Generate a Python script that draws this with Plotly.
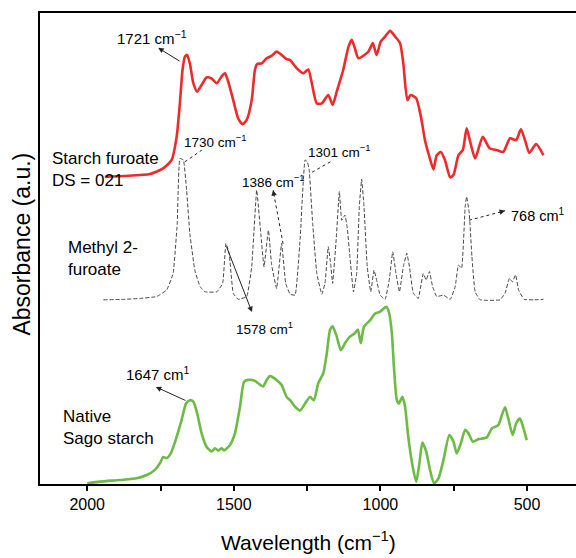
import plotly.graph_objects as go

# FTIR spectra (wavenumber in cm^-1, stacked absorbance in arbitrary units)
furoate_wn = [1940, 1877, 1786, 1741, 1712, 1695, 1684, 1675, 1667, 1659, 1650, 1638, 1625, 1610, 1593,
              1576, 1558, 1541, 1530, 1519, 1502, 1485, 1470, 1456, 1439, 1428, 1420, 1405, 1388, 1371,
              1354, 1337, 1320, 1308, 1286, 1263, 1246, 1234, 1217, 1200, 1178, 1163, 1149, 1127, 1109,
              1098, 1087, 1075, 1041, 1026, 1013, 999, 984, 967, 950, 933, 922, 908, 897, 878,
              862, 848, 833, 819, 808, 794, 780, 762, 751, 734, 719, 706, 694, 677, 651,
              628, 603, 581, 558, 537, 521, 507, 492, 469, 444]
furoate_abs = [65.2, 65.4, 65.8, 67.0, 68.8, 73.7, 80.8, 87.9, 90.7, 91.1, 89.3, 85.1, 83.3, 84.7, 86.3,
               86.1, 85.1, 86.6, 87.2, 85.4, 81.5, 77.6, 76.4, 77.3, 81.5, 87.9, 89.2, 89.3, 90.4, 90.9,
               91.8, 91.1, 90.2, 90.0, 88.3, 87.2, 88.0, 85.1, 80.8, 80.8, 82.6, 80.5, 83.3, 87.9, 92.8,
               94.3, 92.5, 90.4, 91.8, 93.6, 91.1, 93.9, 95.0, 96.2, 95.0, 93.6, 89.3, 81.5, 82.6, 81.9,
               78.0, 73.0, 69.5, 66.8, 69.8, 70.5, 68.8, 65.1, 65.6, 69.8, 70.9, 75.5, 72.7, 69.1, 73.7,
               71.3, 70.9, 70.5, 73.4, 73.0, 75.3, 73.0, 70.3, 72.2, 69.8]

methyl_wn = [1945, 1877, 1820, 1763, 1729, 1707, 1693, 1684, 1672, 1661, 1650, 1633, 1615, 1598, 1558,
             1538, 1527, 1516, 1502, 1485, 1456, 1439, 1422, 1408, 1397, 1382, 1371, 1354, 1337, 1323,
             1308, 1291, 1274, 1257, 1249, 1243, 1231, 1217, 1200, 1189, 1178, 1170, 1163, 1151, 1140,
             1132, 1121, 1113, 1104, 1092, 1081, 1072, 1064, 1056, 1045, 1033, 1022, 1013, 1001, 984,
             970, 958, 947, 935, 922, 910, 901, 888, 871, 854, 844, 833, 822, 808, 785,
             762, 745, 734, 723, 711, 706, 697, 688, 677, 660, 592, 575, 560, 550, 539,
             529, 510, 476, 444]
methyl_abs = [39.1, 39.2, 39.4, 39.8, 41.2, 44.7, 55.3, 69.1, 68.8, 62.4, 53.2, 45.4, 41.9, 40.8, 40.8,
              42.6, 51.1, 49.0, 40.5, 39.2, 39.8, 46.1, 62.4, 53.2, 46.1, 53.9, 46.5, 41.5, 51.1, 42.6,
              40.3, 40.1, 51.8, 68.8, 68.4, 66.7, 55.3, 44.7, 40.3, 42.6, 50.4, 46.9, 42.6, 51.8, 62.1,
              56.0, 57.1, 54.3, 48.3, 40.8, 44.7, 58.9, 64.7, 58.9, 46.1, 40.8, 45.4, 43.3, 40.1, 39.2,
              43.3, 49.3, 44.7, 40.8, 46.1, 49.0, 46.1, 40.5, 39.4, 44.7, 43.3, 45.1, 41.9, 39.8, 40.1,
              39.2, 41.9, 46.5, 45.8, 58.9, 61.0, 57.5, 48.3, 40.8, 39.1, 39.1, 40.5, 43.7, 42.9, 44.4,
              41.2, 39.2, 39.1, 39.2]

sago_wn = [2000, 1957, 1888, 1831, 1797, 1769, 1752, 1741, 1729, 1715, 1695, 1678, 1663, 1650, 1638,
           1625, 1610, 1593, 1576, 1564, 1553, 1541, 1534, 1513, 1496, 1479, 1465, 1451, 1428, 1417,
           1400, 1388, 1377, 1354, 1337, 1320, 1308, 1291, 1274, 1257, 1240, 1227, 1212, 1195, 1183,
           1172, 1163, 1149, 1135, 1121, 1104, 1087, 1077, 1067, 1056, 1035, 1018, 1001, 988, 979,
           970, 961, 954, 944, 937, 925, 916, 905, 890, 878, 867, 857, 844, 831, 817,
           802, 785, 765, 751, 740, 726, 711, 700, 685, 666, 637, 620, 598, 586, 575,
           564, 549, 537, 524, 512, 501]
sago_abs = [0.15, 0.5, 0.85, 1.2, 1.9, 3.0, 4.4, 5.7, 5.5, 6.5, 10.0, 13.6, 17.1, 17.8, 17.5,
            15.0, 10.8, 7.9, 6.9, 7.6, 7.1, 7.6, 7.1, 8.3, 10.8, 16.4, 21.7, 22.1, 21.9, 21.4,
            20.7, 22.1, 22.9, 22.1, 21.0, 18.5, 17.8, 16.4, 15.6, 17.1, 18.5, 17.8, 21.4, 23.5, 27.7,
            32.7, 33.5, 31.3, 28.4, 29.9, 31.3, 32.0, 32.8, 29.9, 33.4, 34.8, 36.2, 36.6, 37.3, 37.6,
            36.2, 32.0, 24.9, 17.8, 17.1, 18.5, 16.4, 10.0, 3.7, 0.5, 4.4, 8.8, 6.9, 3.0, 0.15,
            1.2, 5.1, 10.4, 9.0, 6.5, 8.6, 11.5, 10.8, 9.0, 9.5, 9.9, 11.8, 12.5, 14.6, 16.3,
            13.9, 10.4, 12.9, 13.9, 11.8, 9.3]

tick_vals = [2000, 1750, 1500, 1250, 1000, 750, 500]
tick_text = ["2000", "", "1500", "", "1000", "", "500"]

FONT = "Arial, Liberation Sans, sans-serif"

fig = go.Figure()
fig.add_trace(go.Scatter(x=furoate_wn, y=furoate_abs, mode="lines",
                         line=dict(color="#ee2a2a", width=2.6, shape="spline", smoothing=0.6)))
fig.add_trace(go.Scatter(x=methyl_wn, y=methyl_abs, mode="lines",
                         line=dict(color="#333333", width=0.9, dash="4px,2px", shape="spline", smoothing=0.3)))
fig.add_trace(go.Scatter(x=sago_wn, y=sago_abs, mode="lines",
                         line=dict(color="#6cbb45", width=2.6, shape="spline", smoothing=0.6)))

# peak labels: (text, wavenumber, absorbance, size)
labels = [
    ("1721 cm<sup>\u22121</sup>", 1779, 94.9, 15),
    ("1730 cm<sup>\u22121</sup>", 1564, 72.8, 13.5),
    ("1386 cm<sup>\u22121</sup>", 1363, 64.3, 13.5),
    ("1301 cm<sup>\u22121</sup>", 1138, 70.7, 13.5),
    ("768 cm<sup>1</sup>", 462, 57.1, 14.5),
    ("1578 cm<sup>1</sup>", 1394, 33.1, 13.5),
    ("1647 cm<sup>1</sup>", 1759, 23.4, 15),
]
annotations = []
for txt, xv, yv, sz in labels:
    annotations.append(dict(x=xv, y=yv, xref="x", yref="y", text=txt, showarrow=False,
                            xanchor="center", yanchor="middle",
                            font=dict(family=FONT, size=sz, color="black")))

# sample names
names = [
    ("Starch furoate<br>DS = 021", 2127, 66.7),
    ("Methyl 2-<br>furoate", 2073, 47.8),
    ("Native<br>Sago starch", 2090, 11.9),
]
for txt, xv, yv in names:
    annotations.append(dict(x=xv, y=yv, xref="x", yref="y", text=txt, showarrow=False,
                            xanchor="left", yanchor="middle", align="left",
                            font=dict(family=FONT, size=17, color="black")))

# arrows: (tail wn, tail abs, head wn, head abs, dotted)
arrows = [
    (1680, 89.6, 1758, 92.6, False),
    (1667, 68.4, 1609, 70.9, True),
    (1332, 51.0, 1366, 62.4, True),
    (1233, 66.2, 1165, 68.6, True),
    (698, 56.0, 575, 58.0, True),
    (1527, 50.7, 1438, 36.5, False),
    (1660, 17.6, 1766, 20.6, False),
]
shapes = []
for tx, ty, hx, hy, dotted in arrows:
    if dotted:
        shapes.append(dict(type="line", xref="x", yref="y", x0=tx, y0=ty, x1=hx, y1=hy,
                           line=dict(color="#222222", width=1, dash="dot")))
        # short solid stub so the arrowhead sits at the end of the dotted shaft
        sx = hx + (tx - hx) * 0.12
        sy = hy + (ty - hy) * 0.12
        annotations.append(dict(x=hx, y=hy, ax=sx, ay=sy, xref="x", yref="y", axref="x", ayref="y",
                                text="", showarrow=True, arrowhead=2, arrowsize=1.1, arrowwidth=1,
                                arrowcolor="#222222"))
    else:
        annotations.append(dict(x=hx, y=hy, ax=tx, ay=ty, xref="x", yref="y", axref="x", ayref="y",
                                text="", showarrow=True, arrowhead=2, arrowsize=1.1, arrowwidth=1,
                                arrowcolor="#222222"))

# axis titles
annotations.append(dict(x=-0.034, y=0.51, xref="paper", yref="paper", text="Absorbance (a.u.)",
                        xanchor="center", yanchor="middle",
                        textangle=-90, showarrow=False, font=dict(family=FONT, size=23, color="black")))
annotations.append(dict(x=0.5, y=-0.122, xref="paper", yref="paper", text="Wavelength (cm<sup>\u22121</sup>)",
                        xanchor="center", yanchor="middle",
                        showarrow=False, font=dict(family=FONT, size=21, color="black")))

fig.update_layout(
    width=576, height=558,
    margin=dict(l=40, r=0, t=13, b=74),
    paper_bgcolor="white", plot_bgcolor="white",
    showlegend=False,
    annotations=annotations,
    shapes=shapes,
    xaxis=dict(range=[2161, 333], showgrid=False, zeroline=False,
               showline=True, linecolor="black", linewidth=2, mirror=True,
               ticks="outside", ticklen=5, tickwidth=1.5, tickcolor="black",
               tickvals=tick_vals, ticktext=tick_text,
               tickfont=dict(family=FONT, size=16, color="black")),
    yaxis=dict(range=[0, 100], showgrid=False, zeroline=False,
               showline=True, linecolor="black", linewidth=2,
               showticklabels=False, ticks=""),
)

fig.write_html("out.html")
